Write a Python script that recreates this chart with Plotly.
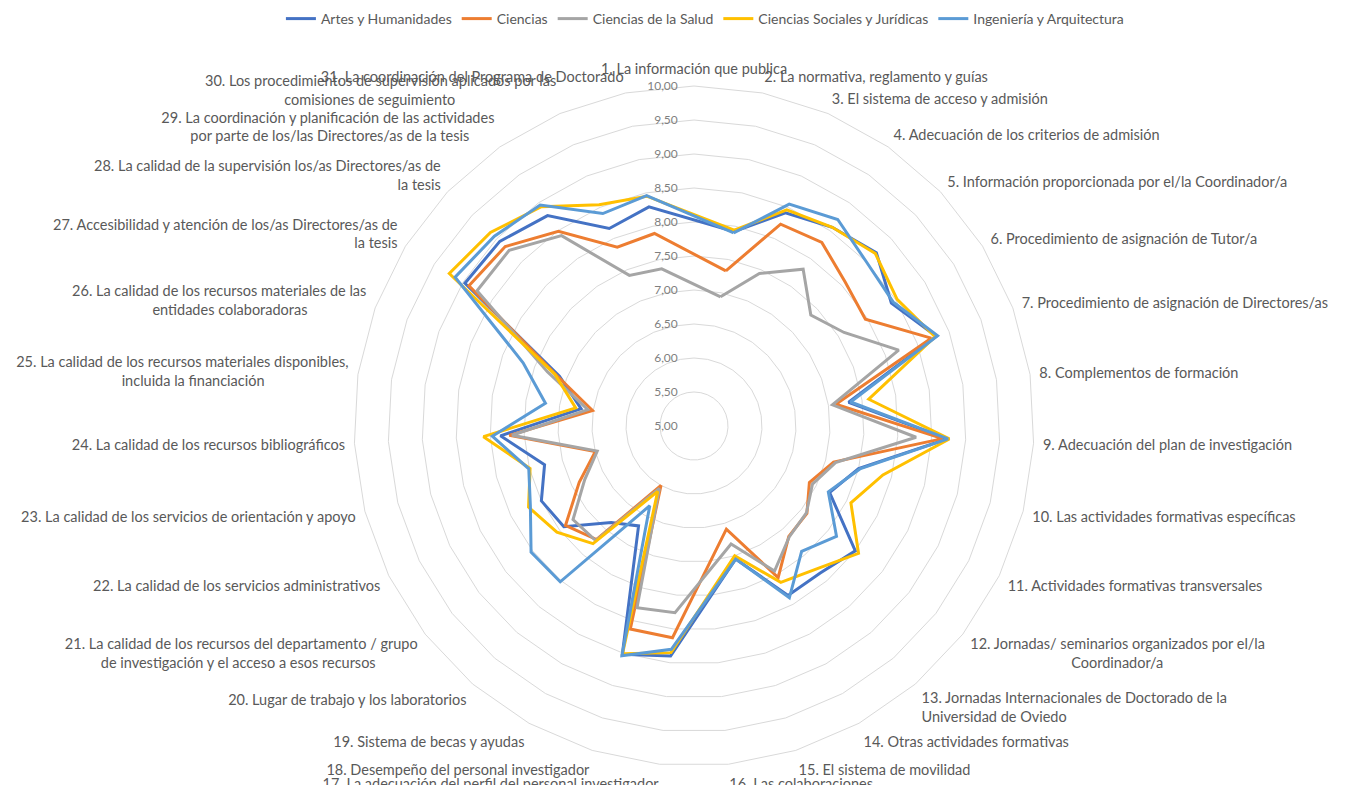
import plotly.graph_objects as go

categories = [
    "1. La información que publica",
    "2. La normativa, reglamento y guías",
    "3. El sistema de acceso y admisión",
    "4. Adecuación de los criterios de admisión",
    "5. Información proporcionada por el/la Coordinador/a",
    "6. Procedimiento de asignación de Tutor/a",
    "7. Procedimiento de asignación de Directores/as",
    "8. Complementos de formación",
    "9. Adecuación del plan de investigación",
    "10. Las actividades formativas específicas",
    "11. Actividades formativas transversales",
    "12. Jornadas/ seminarios organizados por el/la Coordinador/a",
    "13. Jornadas Internacionales de Doctorado de la Universidad de Oviedo",
    "14. Otras actividades formativas",
    "15. El sistema de movilidad",
    "16. Las colaboraciones",
    "17. La adecuación del perfil del personal investigador",
    "18. Desempeño del personal investigador",
    "19. Sistema de becas y ayudas",
    "20. Lugar de trabajo y los laboratorios",
    "21. La calidad de los recursos del departamento / grupo de investigación y el acceso a esos recursos",
    "22. La calidad de los servicios administrativos",
    "23. La calidad de los servicios de orientación y apoyo",
    "24. La calidad de los recursos bibliográficos",
    "25. La calidad de los recursos materiales disponibles, incluida la financiación",
    "26. La calidad de los recursos materiales de las entidades colaboradoras",
    "27. Accesibilidad y atención de los/as Directores/as de la tesis",
    "28. La calidad de la supervisión los/as Directores/as de la tesis",
    "29. La coordinación y planificación de las actividades por parte de los/las Directores/as de la tesis",
    "30. Los procedimientos de supervisión aplicados por las comisiones de seguimiento",
    "31. La coordinación del Programa de Doctorado",
]

# tick labels, each as list of lines
tick_lines = [
    ["1. La información que publica"],
    ["2. La normativa, reglamento y guías"],
    ["3. El sistema de acceso y admisión"],
    ["4. Adecuación de los criterios de admisión"],
    ["5. Información proporcionada por el/la Coordinador/a"],
    ["6. Procedimiento de asignación de Tutor/a"],
    ["7. Procedimiento de asignación de Directores/as"],
    ["8. Complementos de formación"],
    ["9. Adecuación del plan de investigación"],
    ["10. Las actividades formativas específicas"],
    ["11. Actividades formativas transversales"],
    ["12. Jornadas/ seminarios organizados por el/la", "Coordinador/a"],
    ["13. Jornadas Internacionales de Doctorado de la", "Universidad de Oviedo"],
    ["14. Otras actividades formativas"],
    ["15. El sistema de movilidad"],
    ["16. Las colaboraciones"],
    ["17. La adecuación del perfil del personal investigador"],
    ["18. Desempeño del personal investigador"],
    ["19. Sistema de becas y ayudas"],
    ["20. Lugar de trabajo y los laboratorios"],
    ["21. La calidad de los recursos del departamento / grupo", "de investigación y el acceso a esos recursos"],
    ["22. La calidad de los servicios administrativos"],
    ["23. La calidad de los servicios de orientación y apoyo"],
    ["24. La calidad de los recursos bibliográficos"],
    ["25. La calidad de los recursos materiales disponibles,", "incluida la financiación"],
    ["26. La calidad de los recursos materiales de las", "entidades colaboradoras"],
    ["27. Accesibilidad y atención de los/as Directores/as de", "la tesis"],
    ["28. La calidad de la supervisión los/as Directores/as de", "la tesis"],
    ["29. La coordinación y planificación de las actividades", "por parte de los/las Directores/as de la tesis"],
    ["30. Los procedimientos de supervisión aplicados por las", "comisiones de seguimiento"],
    ["31. La coordinación del Programa de Doctorado"],
]

series_names = ["Artes y Humanidades", "Ciencias", "Ciencias de la Salud",
                "Ciencias Sociales y Jurídicas", "Ingeniería y Arquitectura"]
series_colors = ["#4472C4", "#ED7D31", "#A5A5A5", "#FFC000", "#5B9BD5"]

# values per category 1..31 (None = no point drawn at that category)
artes = [None, 7.92, 8.41, 8.56, 8.70, 8.42, 8.80, 7.30, 8.73, 7.50,
         7.22, 8.00, 7.85, 7.85, 7.05, None, 8.40, 8.52, 6.68, 6.87,
         7.42, 7.50, 7.27, 7.85, 6.68, 7.11, 8.97, 8.94, 8.77, 8.16, 8.29]
ciencias = [None, 7.33, 8.23, 8.29, 8.07, 7.97, 8.72, 7.11, 8.66, 7.12,
            6.89, 7.10, 7.14, 7.55, 6.59, None, 8.13, 8.13, 6.00, 7.20,
            7.39, 6.88, 6.50, 7.72, 6.51, 7.16, 8.90, 8.83, 8.49, 7.86, 7.89]
salud = [None, 6.94, 7.44, 7.81, 7.37, 7.60, 8.21, 7.06, 8.27, 7.15,
         6.94, 7.09, 7.15, 7.44, 6.82, None, 7.76, 7.80, 6.05, 7.22,
         7.25, 6.79, 6.47, 7.68, 6.58, 7.30, 8.76, 8.75, 8.41, 7.41, 7.36]
sociales = [None, 7.94, 8.46, 8.56, 8.68, 8.52, 8.78, 7.60, 8.76, 7.87,
            7.57, 8.06, 7.77, 7.63, 7.00, None, 8.35, 8.51, 6.10, 7.28,
            7.55, 7.71, 7.49, 8.10, 6.76, 7.18, 9.24, 9.13, 8.93, 8.54, 8.45]
ingenieria = [None, 7.90, 8.55, 8.70, 8.50, 8.45, 8.82, 7.33, 8.74, 7.52,
              7.20, 7.65, 7.43, 7.89, 7.05, None, 8.30, 8.54, 6.34, 8.02,
              8.03, 7.68, 7.51, 7.97, 7.21, 7.68, 9.14, 9.05, 8.96, 8.40, 8.46]

radial_ticks = [5.0, 5.5, 6.0, 6.5, 7.0, 7.5, 8.0, 8.5, 9.0, 9.5, 10.0]

all_series = [artes, ciencias, salud, sociales, ingenieria]

# ---- styling helpers (invisible padding used to centre wrapped label lines) ----
def pad(n):
    return "<span style='color:rgba(0,0,0,0)'>" + "0" * n + "</span>" if n > 0 else ""

# (index of category, padding count on 2nd line, 'trail' or 'lead')
second_line_pad = {11: (12, "lead"), 20: (5, "trail"), 24: (10, "trail"),
                   25: (7, "trail"), 28: (3, "trail"), 29: (12, "trail")}

tick_text = []
for i, lines in enumerate(tick_lines):
    lines = list(lines)
    if i in second_line_pad and len(lines) > 1:
        n, mode = second_line_pad[i]
        lines[1] = pad(n) + lines[1] if mode == "lead" else lines[1] + pad(n)
    tick_text.append("<br>".join(lines))

radial_text = [f"{v:.2f}".replace(".", ",") + pad(2) for v in radial_ticks]

fig = go.Figure()
for name, color, vals in zip(series_names, series_colors, all_series):
    # close the loop: repeat first two categories so a gap at the first
    # category is bridged straight to the second one
    theta = categories + categories[:2]
    r = vals + vals[:2]
    fig.add_trace(go.Scatterpolar(
        r=r, theta=theta, mode="lines", name=name,
        line=dict(color=color, width=3),
        connectgaps=True,
        hoverinfo="skip",
    ))

W, H = 1348, 785
cx, cy, R = 686, 418, 340
fig.update_layout(
    width=W, height=H,
    margin=dict(l=0, r=0, t=0, b=0, autoexpand=False),
    paper_bgcolor="white",
    font=dict(family="Lato, 'Open Sans', sans-serif", color="#595959", size=13),
    polar=dict(
        domain=dict(x=[(cx - R) / W, (cx + R) / W],
                    y=[(H - cy - R) / H, (H - cy + R) / H]),
        bgcolor="white",
        gridshape="linear",
        angularaxis=dict(
            type="category",
            categoryorder="array",
            categoryarray=categories,
            tickmode="array",
            tickvals=categories,
            ticktext=tick_text,
            direction="clockwise",
            rotation=90,
            showgrid=False,
            showline=True,
            linecolor="#D9D9D9",
            linewidth=1,
            ticks="outside",
            ticklen=6,
            tickcolor="rgba(0,0,0,0)",
            tickfont=dict(size=14.5, color="#595959"),
        ),
        radialaxis=dict(
            range=[5, 10],
            tickmode="array",
            tickvals=radial_ticks,
            ticktext=radial_text,
            angle=90,
            tickangle=90,
            side="counterclockwise",
            showline=False,
            ticks="",
            gridcolor="#D9D9D9",
            gridwidth=1,
            tickfont=dict(size=12, color="#7F7F7F"),
        ),
    ),
    legend=dict(
        orientation="h",
        x=0.517, xanchor="center",
        y=1 - 11 / H, yanchor="middle",
        font=dict(size=14, color="#595959"),
        itemwidth=30,
        bgcolor="rgba(0,0,0,0)",
    ),
)

fig.write_html("out.html")
